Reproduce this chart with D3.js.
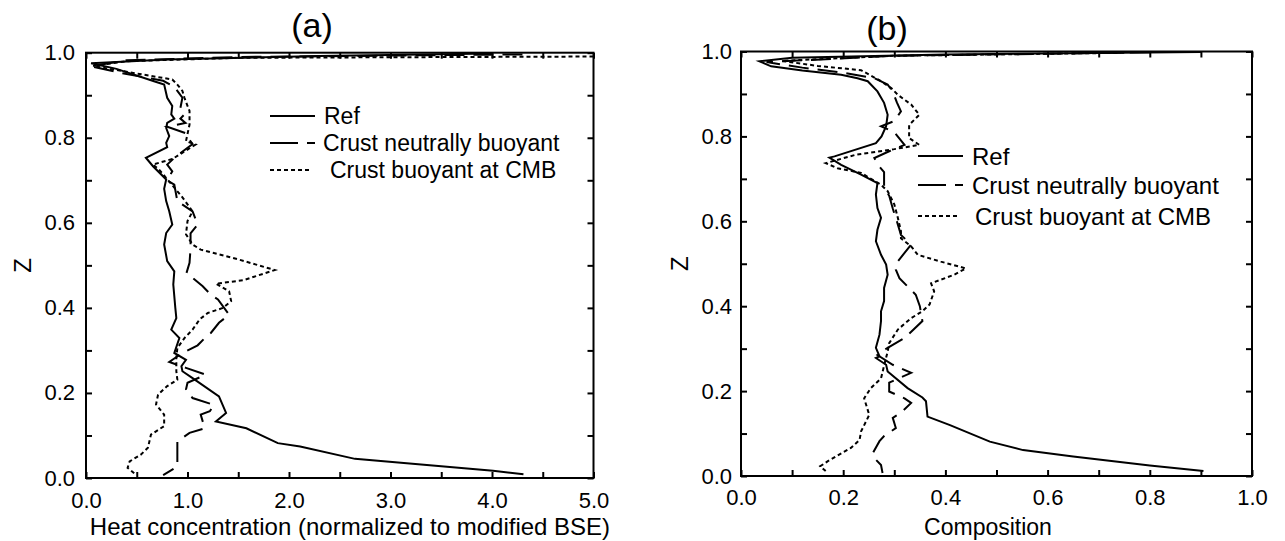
<!DOCTYPE html>
<html>
<head>
<meta charset="utf-8">
<script src="https://cdn.jsdelivr.net/npm/d3@7"></script>
<style>
  html, body { margin: 0; padding: 0; background: #fff; }
  svg { display: block; font-family: "Liberation Sans", Arial, sans-serif; }
</style>
</head>
<body>
<svg id="chart" width="1285" height="541"></svg>
<script>
// Depth profiles: each point is [value, z], listed from the top of the mantle down.

// (a) Heat concentration, normalized to modified BSE
const heatRef = [
  [4.0,0.998],[2.3,0.992],[0.8,0.984],[0.05,0.975],[0.3,0.962],[0.67,0.933],[0.77,0.925],
  [0.80,0.894],[0.85,0.875],[0.84,0.855],[0.87,0.845],[0.80,0.835],[0.79,0.823],[0.82,0.804],
  [0.79,0.788],[0.80,0.778],[0.59,0.753],[0.66,0.733],[0.79,0.702],[0.77,0.68],[0.79,0.651],
  [0.82,0.627],[0.85,0.596],[0.79,0.576],[0.77,0.549],[0.80,0.51],[0.87,0.486],[0.86,0.455],
  [0.88,0.40],[0.89,0.376],[0.84,0.349],[0.92,0.329],[0.87,0.294],[0.985,0.278],[0.94,0.263],
  [0.95,0.251],[1.05,0.235],[1.31,0.192],[1.38,0.153],[1.28,0.133],[1.58,0.117],[1.89,0.082],
  [2.11,0.074],[2.65,0.045],[4.01,0.017],[4.31,0.009]
];
const heatNeutral = [
  [4.3,0.996],[1.5,0.99],[0.4,0.982],[0.05,0.968],[0.35,0.952],[0.76,0.934],[0.87,0.92],
  [0.95,0.894],[0.93,0.87],[0.97,0.855],[0.93,0.845],[0.98,0.835],[0.80,0.826],[0.99,0.81],
  [1.02,0.795],[1.05,0.785],[0.89,0.757],[0.80,0.737],[0.85,0.721],[0.80,0.70],[0.87,0.69],
  [0.90,0.651],[1.05,0.627],[1.1,0.596],[1.03,0.575],[1.03,0.54],[1.02,0.506],[0.99,0.482],
  [1.15,0.451],[1.23,0.431],[1.30,0.42],[1.41,0.384],[1.31,0.365],[1.23,0.341],[1.17,0.329],
  [1.10,0.312],[0.95,0.294],[0.82,0.273],[0.9,0.266],[0.985,0.259],[1.18,0.243],[1.0,0.224],
  [0.985,0.208],[1.05,0.188],[1.26,0.172],[1.22,0.157],[1.13,0.149],[1.17,0.117],[1.02,0.106],
  [0.9,0.086],[0.9,0.067],[0.9,0.027],[0.76,0.007]
];
const heatCMB = [
  [5.0,0.991],[1.5,0.988],[0.4,0.98],[0.07,0.969],[0.4,0.955],[0.85,0.937],[0.9,0.925],
  [0.95,0.91],[0.97,0.894],[1.0,0.875],[1.02,0.863],[1.02,0.831],[0.985,0.792],[1.08,0.784],
  [0.85,0.75],[0.66,0.737],[0.72,0.725],[0.82,0.697],[0.95,0.66],[1.05,0.627],[1.0,0.604],
  [0.985,0.573],[1.05,0.549],[1.13,0.537],[1.5,0.514],[1.86,0.489],[1.55,0.465],[1.28,0.457],
  [1.41,0.439],[1.43,0.416],[1.35,0.40],[1.2,0.388],[1.12,0.373],[1.05,0.349],[0.97,0.329],
  [0.9,0.306],[0.89,0.282],[0.89,0.251],[0.9,0.231],[0.8,0.216],[0.71,0.196],[0.69,0.173],
  [0.77,0.149],[0.77,0.122],[0.64,0.102],[0.61,0.071],[0.54,0.055],[0.43,0.039],[0.41,0.024],
  [0.49,0.008]
];

// (b) Composition
const compRef = [
  [0.9,0.999],[0.4,0.993],[0.1,0.985],[0.036,0.977],[0.059,0.965],[0.12,0.955],[0.196,0.945],
  [0.228,0.937],[0.248,0.93],[0.267,0.906],[0.28,0.879],[0.287,0.851],[0.284,0.824],[0.275,0.80],
  [0.264,0.784],[0.183,0.753],[0.173,0.75],[0.196,0.733],[0.235,0.71],[0.267,0.69],[0.264,0.663],
  [0.267,0.631],[0.274,0.608],[0.267,0.58],[0.264,0.553],[0.274,0.521],[0.284,0.498],[0.287,0.474],
  [0.28,0.443],[0.28,0.412],[0.274,0.388],[0.274,0.365],[0.271,0.333],[0.264,0.302],[0.271,0.282],
  [0.264,0.278],[0.284,0.262],[0.287,0.246],[0.326,0.207],[0.355,0.185],[0.362,0.176],[0.365,0.14],
  [0.409,0.12],[0.487,0.081],[0.552,0.061],[0.65,0.046],[0.80,0.025],[0.905,0.012]
];
const compNeutral = [
  [0.8,0.998],[0.3,0.99],[0.05,0.975],[0.12,0.962],[0.2,0.95],[0.261,0.937],[0.287,0.922],
  [0.297,0.906],[0.305,0.88],[0.313,0.859],[0.30,0.836],[0.274,0.824],[0.30,0.81],[0.32,0.78],
  [0.29,0.765],[0.261,0.749],[0.27,0.73],[0.28,0.716],[0.28,0.68],[0.29,0.66],[0.297,0.63],
  [0.305,0.60],[0.313,0.568],[0.333,0.545],[0.307,0.506],[0.303,0.486],[0.31,0.466],[0.342,0.427],
  [0.35,0.40],[0.355,0.365],[0.32,0.325],[0.287,0.302],[0.267,0.285],[0.297,0.262],[0.333,0.243],
  [0.29,0.22],[0.29,0.199],[0.32,0.183],[0.333,0.172],[0.313,0.149],[0.297,0.137],[0.303,0.113],
  [0.28,0.094],[0.271,0.082],[0.258,0.054],[0.261,0.042],[0.274,0.026],[0.277,0.007]
];
const compCMB = [
  [0.75,0.997],[0.3,0.99],[0.08,0.978],[0.15,0.966],[0.235,0.956],[0.274,0.93],[0.294,0.914],
  [0.307,0.898],[0.333,0.875],[0.349,0.851],[0.329,0.827],[0.329,0.796],[0.349,0.78],[0.30,0.77],
  [0.225,0.757],[0.166,0.737],[0.189,0.725],[0.235,0.714],[0.274,0.686],[0.287,0.671],[0.30,0.64],
  [0.307,0.608],[0.313,0.577],[0.313,0.56],[0.333,0.541],[0.346,0.521],[0.391,0.505],[0.44,0.489],
  [0.417,0.474],[0.372,0.454],[0.378,0.435],[0.369,0.404],[0.355,0.388],[0.333,0.372],[0.307,0.345],
  [0.29,0.313],[0.287,0.293],[0.28,0.26],[0.274,0.23],[0.254,0.207],[0.241,0.183],[0.251,0.144],
  [0.235,0.105],[0.232,0.085],[0.215,0.066],[0.17,0.035],[0.155,0.023],[0.17,0.007]
];

const seriesNames = ["Ref", "Crust neutrally buoyant", "Crust buoyant at CMB"];

const heatTicksMajor = [0, 1, 2, 3, 4, 5];
const heatTicksMinor = [0, 0.5, 1, 1.5, 2, 2.5, 3, 3.5, 4, 4.5, 5];
const compTicksMajor = [0, 0.2, 0.4, 0.6, 0.8, 1.0];
const compTicksMinor = [0, 0.1, 0.2, 0.3, 0.4, 0.5, 0.6, 0.7, 0.8, 0.9, 1.0];
const zTicksMajor = [0, 0.2, 0.4, 0.6, 0.8, 1.0];
const zTicksMinor = [0, 0.1, 0.2, 0.3, 0.4, 0.5, 0.6, 0.7, 0.8, 0.9, 1.0];

// Line styles for the three runs
const styles = [
  { dash: null,   legendDash: null },
  { dash: "20,9", legendDash: "28,9" },
  { dash: "4,3",  legendDash: "4,3" }
];

const svg = d3.select("#chart");

function drawPanel(p) {
  const x = d3.scaleLinear().domain(p.xDomain).range([p.left, p.right]);
  const y = d3.scaleLinear().domain([0, 1]).range([p.bottom, p.top]);
  const g = svg.append("g");
  const fmt = d3.format(".1f");

  // ticks: inward on all four sides, labels on left and bottom
  const styleAxis = sel => {
    sel.select(".domain").remove();
    sel.selectAll(".tick line").attr("stroke", "#000").attr("stroke-width", 2);
    sel.selectAll(".tick text").attr("fill", "#000").attr("font-size", 22)
      .attr("font-family", "Liberation Sans, Arial, sans-serif");
  };
  g.append("g").attr("transform", `translate(0,${p.bottom})`)
    .call(d3.axisBottom(x).tickValues(p.xMinor).tickSize(-6).tickPadding(p.xPad)
      .tickFormat(d => p.xMajor.some(m => Math.abs(m - d) < 1e-9) ? fmt(d) : ""))
    .call(styleAxis);
  g.append("g").attr("transform", `translate(0,${p.top})`)
    .call(d3.axisTop(x).tickValues(p.xMinor).tickSize(-6).tickFormat(""))
    .call(styleAxis);
  g.append("g").attr("transform", `translate(${p.left},0)`)
    .call(d3.axisLeft(y).tickValues(zTicksMinor).tickSize(-6).tickPadding(p.yPad)
      .tickFormat(d => zTicksMajor.some(m => Math.abs(m - d) < 1e-9) ? fmt(d) : ""))
    .call(styleAxis);
  g.append("g").attr("transform", `translate(${p.right},0)`)
    .call(d3.axisRight(y).tickValues(zTicksMinor).tickSize(-6).tickFormat(""))
    .call(styleAxis);

  // frame
  g.append("rect")
    .attr("x", p.left).attr("y", p.top)
    .attr("width", p.right - p.left).attr("height", p.bottom - p.top)
    .attr("fill", "none").attr("stroke", "#000").attr("stroke-width", 2);

  // profiles
  const line = d3.line().x(d => x(d[0])).y(d => y(d[1]));
  p.series.forEach((s, i) => {
    g.append("path").datum(s)
      .attr("d", line)
      .attr("fill", "none").attr("stroke", "#000").attr("stroke-width", 2)
      .attr("stroke-linejoin", "miter")
      .attr("stroke-dasharray", styles[i].dash);
  });

  // legend
  const lg = g.append("g");
  seriesNames.forEach((name, i) => {
    const ly = p.legendRows[i];
    lg.append("line")
      .attr("x1", p.legendX).attr("x2", p.legendX + p.legendLen[i])
      .attr("y1", ly).attr("y2", ly)
      .attr("stroke", "#000").attr("stroke-width", 2)
      .attr("stroke-dasharray", styles[i].legendDash);
    lg.append("text")
      .attr("x", p.legendTextX[i]).attr("y", ly).attr("dy", "0.36em")
      .attr("font-size", p.legendSize).attr("fill", "#000")
      .text(name);
  });

  // titles
  g.append("text")
    .attr("x", p.titleX).attr("y", p.titleY)
    .attr("text-anchor", "middle").attr("font-size", 34).attr("fill", "#000")
    .text(p.title);
  g.append("text")
    .attr("x", p.xLabelX).attr("y", p.xLabelY)
    .attr("text-anchor", "middle").attr("font-size", p.xLabelSize).attr("fill", "#000")
    .text(p.xLabel);
  g.append("text")
    .attr("transform", `translate(${p.zLabelX},${(p.top + p.bottom) / 2}) rotate(-90)`)
    .attr("text-anchor", "middle").attr("font-size", 24).attr("fill", "#000")
    .text("Z");
}

drawPanel({
  left: 86, right: 593.5, top: 52.7, bottom: 478,
  xDomain: [0, 5], xMajor: heatTicksMajor, xMinor: heatTicksMinor,
  xPad: 14, yPad: 11,
  series: [heatRef, heatNeutral, heatCMB],
  legendX: 270, legendLen: [45, 45, 40], legendTextX: [324, 323, 330],
  legendRows: [116, 143, 170], legendSize: 23,
  title: "(a)", titleX: 312, titleY: 37,
  xLabel: "Heat concentration (normalized to modified BSE)", xLabelX: 350, xLabelY: 535, xLabelSize: 24,
  zLabelX: 31
});

drawPanel({
  left: 741, right: 1252, top: 51.5, bottom: 476,
  xDomain: [0, 1], xMajor: compTicksMajor, xMinor: compTicksMinor,
  xPad: 13, yPad: 9,
  series: [compRef, compNeutral, compCMB],
  legendX: 918, legendLen: [45, 45, 40], legendTextX: [972, 972, 975],
  legendRows: [156, 185, 216], legendSize: 24,
  title: "(b)", titleX: 887, titleY: 40,
  xLabel: "Composition", xLabelX: 988, xLabelY: 535, xLabelSize: 23,
  zLabelX: 688
});
</script>
</body>
</html>
